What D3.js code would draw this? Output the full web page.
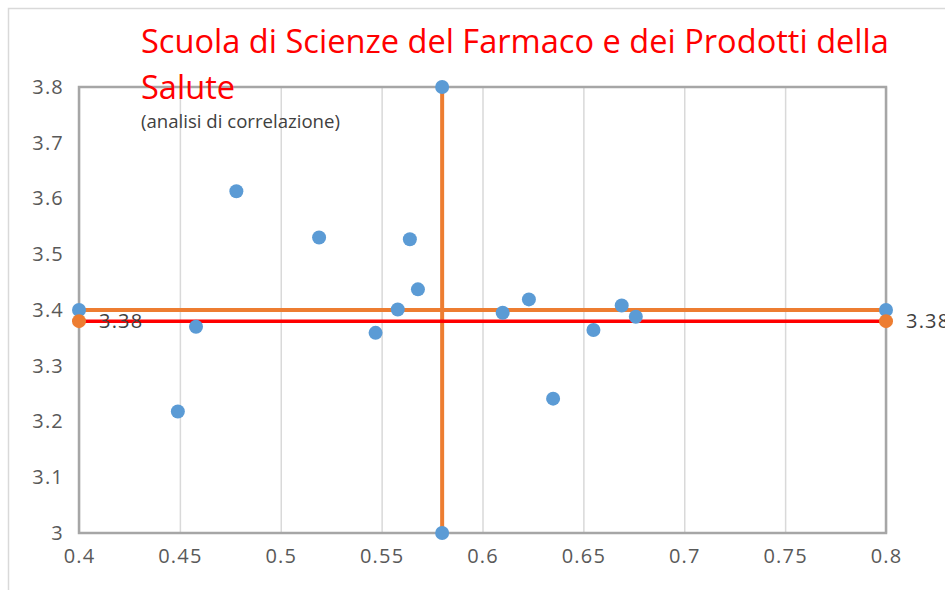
<!DOCTYPE html>
<html>
<head>
<meta charset="utf-8">
<script src="https://cdn.jsdelivr.net/npm/d3@7"></script>
<style>
  html, body { margin: 0; padding: 0; background: #ffffff; }
  svg { display: block; }
</style>
</head>
<body>
<svg id="chart" width="945" height="590"></svg>
<script>
// ---- data ----
const pointX = [0.478, 0.519, 0.564, 0.568, 0.458, 0.449, 0.547, 0.558, 0.610, 0.623, 0.635, 0.655, 0.669, 0.676];
const pointY = [3.613, 3.530, 3.527, 3.437, 3.370, 3.218, 3.359, 3.401, 3.395, 3.419, 3.241, 3.364, 3.408, 3.388];
const meanX = 0.58;
const meanY = 3.40;
const refY = 3.38;
const refLabel = "3.38";
const xTicks = [0.4, 0.45, 0.5, 0.55, 0.6, 0.65, 0.7, 0.75, 0.8];
const xTickLabels = ["0.4", "0.45", "0.5", "0.55", "0.6", "0.65", "0.7", "0.75", "0.8"];
const yTicks = [3, 3.1, 3.2, 3.3, 3.4, 3.5, 3.6, 3.7, 3.8];
const yTickLabels = ["3", "3.1", "3.2", "3.3", "3.4", "3.5", "3.6", "3.7", "3.8"];
const titleLines = ["Scuola di Scienze del Farmaco e dei Prodotti della", "Salute"];
const subtitle = "(analisi di correlazione)";

(function () {
// ---- layout ----
const svg = d3.select("#chart");
const FONT = "'Open Sans', 'Noto Sans', sans-serif";
const pL = 79, pR = 886, pT = 87, pB = 533;
const x = d3.scaleLinear().domain([0.4, 0.8]).range([pL, pR]);
const y = d3.scaleLinear().domain([3, 3.8]).range([pB, pT]);

const blue = "#5B9BD5", orange = "#ED7D31", red = "#FF0000";

// chart area frame
svg.append("rect").attr("x", 8.5).attr("y", 8.5).attr("width", 945).attr("height", 600)
  .attr("fill", "#fff").attr("stroke", "#D9D9D9").attr("stroke-width", 1.5);

// vertical gridlines + x labels
const xAxis = d3.axisBottom(x).tickValues(xTicks)
  .tickFormat((d, i) => xTickLabels[i]).tickSize(-(pB - pT)).tickPadding(16);
const gx = svg.append("g").attr("transform", `translate(0,${pB})`).call(xAxis);
gx.select(".domain").remove();
gx.selectAll(".tick line").attr("stroke", "#D9D9D9").attr("stroke-width", 1.5);
gx.selectAll(".tick text").attr("fill", "#595959").attr("font-family", FONT)
  .attr("font-size", 20).attr("letter-spacing", 1.2).attr("dy", "0.71em");

const yAxis = d3.axisLeft(y).tickValues(yTicks)
  .tickFormat((d, i) => yTickLabels[i]).tickSize(0).tickPadding(15);
const gy = svg.append("g").attr("transform", `translate(${pL},0)`).call(yAxis);
gy.select(".domain").remove();
gy.selectAll(".tick text").attr("fill", "#595959").attr("font-family", FONT)
  .attr("font-size", 20).attr("letter-spacing", 1.2);

// plot border
svg.append("rect").attr("x", pL).attr("y", pT).attr("width", pR - pL).attr("height", pB - pT)
  .attr("fill", "none").attr("stroke", "#A6A6A6").attr("stroke-width", 2.5);

// mean lines (orange)
svg.append("line").attr("x1", x(0.4)).attr("x2", x(0.8)).attr("y1", y(meanY)).attr("y2", y(meanY))
  .attr("stroke", orange).attr("stroke-width", 4);
svg.append("line").attr("x1", x(meanX)).attr("x2", x(meanX)).attr("y1", y(3)).attr("y2", y(3.8))
  .attr("stroke", orange).attr("stroke-width", 4);
// reference line (red)
svg.append("line").attr("x1", x(0.4)).attr("x2", x(0.8)).attr("y1", y(refY)).attr("y2", y(refY))
  .attr("stroke", red).attr("stroke-width", 3.5);

// scatter points
const pts = pointX.map((v, i) => ({ x: v, y: pointY[i] }));
svg.append("g").selectAll("circle").data(pts).join("circle")
  .attr("cx", d => x(d.x)).attr("cy", d => y(d.y)).attr("r", 7).attr("fill", blue);

// line end markers
const meanEnds = [{ x: 0.4, y: meanY }, { x: 0.8, y: meanY }, { x: meanX, y: 3 }, { x: meanX, y: 3.8 }];
svg.append("g").selectAll("circle").data(meanEnds).join("circle")
  .attr("cx", d => x(d.x)).attr("cy", d => y(d.y)).attr("r", 7).attr("fill", blue);
const refEnds = [{ x: 0.4, y: refY }, { x: 0.8, y: refY }];
svg.append("g").selectAll("circle").data(refEnds).join("circle")
  .attr("cx", d => x(d.x)).attr("cy", d => y(d.y)).attr("r", 7).attr("fill", orange);

// reference labels
svg.append("g").selectAll("text").data(refEnds).join("text")
  .attr("x", d => x(d.x) + 20).attr("y", d => y(d.y)).attr("dy", "0.35em")
  .attr("font-family", FONT).attr("font-size", 20).attr("letter-spacing", 1.2)
  .attr("fill", "#404040").text(refLabel);

// title
const t1 = svg.append("text").attr("x", 141).attr("y", 53).attr("fill", red)
  .attr("font-family", FONT).attr("font-size", 30).text(titleLines[0]);
const w = t1.node().getComputedTextLength();
const fs = 30 * 748 / w;
t1.attr("font-size", fs);
svg.append("text").attr("x", 141).attr("y", 99).attr("fill", red)
  .attr("font-family", FONT).attr("font-size", fs).text(titleLines[1]);
const st = svg.append("text").attr("x", 141).attr("y", 128).attr("fill", "#404040")
  .attr("font-family", FONT).attr("font-size", 13).text(subtitle);
const sw = st.node().getComputedTextLength();
st.attr("font-size", 13 * 199 / sw);
})();
</script>
</body>
</html>
